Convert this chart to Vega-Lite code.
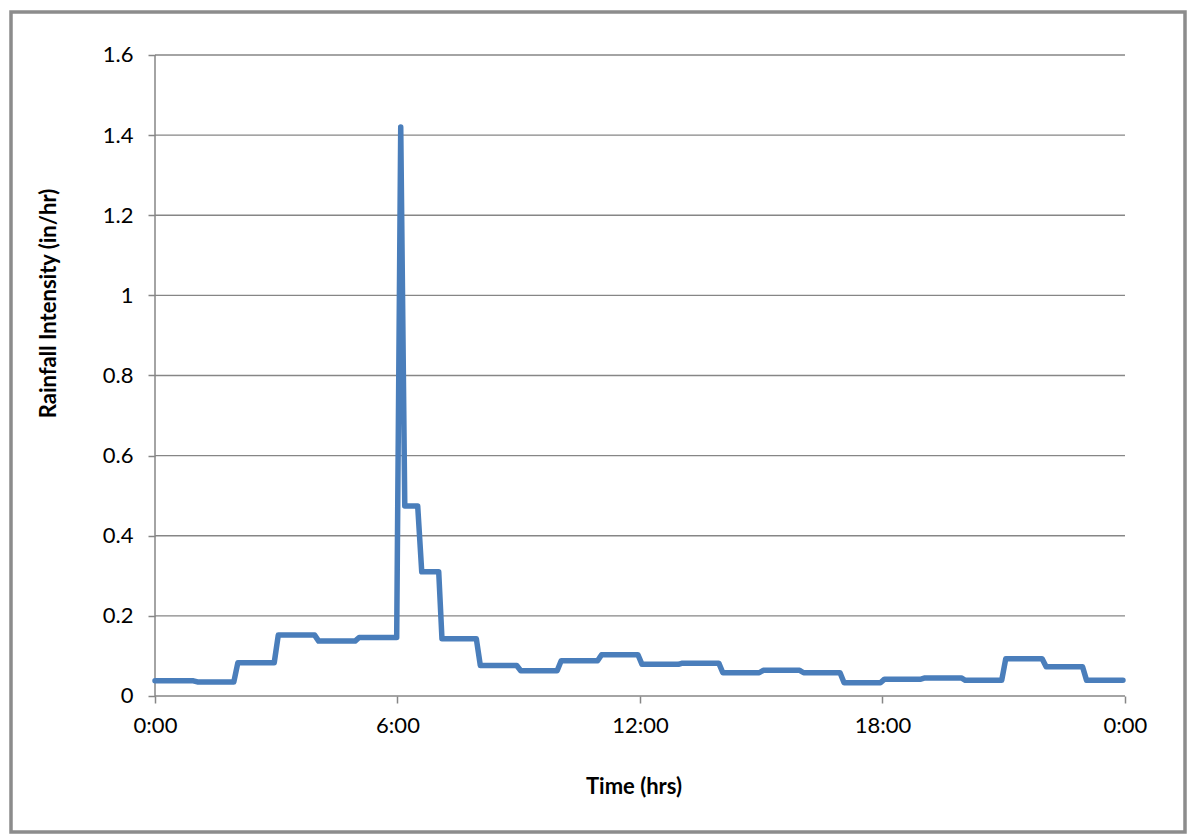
{
  "$schema": "https://vega.github.io/schema/vega-lite/v6.json",
  "width": 1174,
  "height": 820,
  "autosize": {"type": "none"},
  "padding": {"left": 11, "top": 12, "right": 5, "bottom": 4},
  "background": "white",
  "config": {
    "view": {"stroke": "#8c8c8c", "strokeWidth": 3.5},
    "font": "Lato",
    "axis": {
      "labelFont": "Lato",
      "titleFont": "Lato",
      "labelColor": "#000000",
      "titleColor": "#000000",
      "labelFontSize": 22,
      "titleFontSize": 22,
      "titleFontWeight": "bold",
      "tickColor": "#868686",
      "tickWidth": 1.5,
      "tickSize": 7,
      "grid": false,
      "domain": false
    }
  },
  "datasets": {
    "rain": [
      {"t": 0.0, "v": 0.038},
      {"t": 0.95, "v": 0.038},
      {"t": 1.05, "v": 0.035},
      {"t": 1.95, "v": 0.035},
      {"t": 2.05, "v": 0.083},
      {"t": 2.95, "v": 0.083},
      {"t": 3.05, "v": 0.152},
      {"t": 3.95, "v": 0.152},
      {"t": 4.05, "v": 0.137},
      {"t": 4.95, "v": 0.137},
      {"t": 5.05, "v": 0.146},
      {"t": 5.98, "v": 0.146},
      {"t": 6.08, "v": 1.42},
      {"t": 6.18, "v": 0.474},
      {"t": 6.5, "v": 0.474},
      {"t": 6.6, "v": 0.31},
      {"t": 7.02, "v": 0.31},
      {"t": 7.1, "v": 0.143},
      {"t": 7.95, "v": 0.143},
      {"t": 8.05, "v": 0.076},
      {"t": 8.95, "v": 0.076},
      {"t": 9.05, "v": 0.063},
      {"t": 9.95, "v": 0.063},
      {"t": 10.05, "v": 0.088},
      {"t": 10.95, "v": 0.088},
      {"t": 11.05, "v": 0.103},
      {"t": 11.95, "v": 0.103},
      {"t": 12.05, "v": 0.079},
      {"t": 12.95, "v": 0.079},
      {"t": 13.05, "v": 0.082},
      {"t": 13.95, "v": 0.082},
      {"t": 14.05, "v": 0.058},
      {"t": 14.95, "v": 0.058},
      {"t": 15.05, "v": 0.064},
      {"t": 15.95, "v": 0.064},
      {"t": 16.05, "v": 0.058},
      {"t": 16.95, "v": 0.058},
      {"t": 17.05, "v": 0.033},
      {"t": 17.95, "v": 0.033},
      {"t": 18.05, "v": 0.042},
      {"t": 18.95, "v": 0.042},
      {"t": 19.05, "v": 0.045},
      {"t": 19.95, "v": 0.045},
      {"t": 20.05, "v": 0.039},
      {"t": 20.95, "v": 0.039},
      {"t": 21.05, "v": 0.093},
      {"t": 21.95, "v": 0.093},
      {"t": 22.05, "v": 0.073},
      {"t": 22.95, "v": 0.073},
      {"t": 23.05, "v": 0.039},
      {"t": 23.95, "v": 0.039}
    ],
    "grid": [
      {"g": 0.2}, {"g": 0.4}, {"g": 0.6}, {"g": 0.8},
      {"g": 1.0}, {"g": 1.2}, {"g": 1.4}, {"g": 1.6}
    ],
    "axes": [
      {"x": 0, "x2": 24, "y": 0, "y2": 0},
      {"x": 0, "x2": 0, "y": 0, "y2": 1.6}
    ]
  },
  "layer": [
    {
      "data": {"name": "grid"},
      "mark": {"type": "rule", "color": "#868686", "strokeWidth": 1.4},
      "encoding": {
        "y": {"field": "g", "type": "quantitative"},
        "x": {"datum": 0, "type": "quantitative"},
        "x2": {"datum": 24}
      }
    },
    {
      "data": {"name": "axes"},
      "mark": {"type": "rule", "color": "#868686", "strokeWidth": 1.5},
      "encoding": {
        "x": {"field": "x", "type": "quantitative"},
        "x2": {"field": "x2"},
        "y": {"field": "y", "type": "quantitative"},
        "y2": {"field": "y2"}
      }
    },
    {
      "data": {"name": "rain"},
      "mark": {"type": "line", "color": "#4a7ebb", "strokeWidth": 5.5, "strokeCap": "round", "strokeJoin": "round"},
      "encoding": {
        "x": {
          "field": "t",
          "type": "quantitative",
          "scale": {"domain": [-3.563, 25.485], "nice": false, "zero": false},
          "axis": {
            "values": [0, 6, 12, 18, 24],
            "labelExpr": "datum.value == 24 ? '0:00' : datum.value + ':00'",
            "offset": -136,
            "labelPadding": 12,
            "title": "Time (hrs)",
            "titleX": 622.5,
            "titleY": 90,
            "titleAnchor": null,
            "titleAlign": "center",
            "titleBaseline": "middle"
          }
        },
        "y": {
          "field": "v",
          "type": "quantitative",
          "scale": {"domain": [-0.3395, 1.7073], "nice": false, "zero": false},
          "axis": {
            "values": [0, 0.2, 0.4, 0.6, 0.8, 1.0, 1.2, 1.4, 1.6],
            "format": "~g",
            "offset": -144,
            "labelPadding": 15,
            "title": "Rainfall Intensity (in/hr)",
            "titleX": -107,
            "titleY": 291,
            "titleAngle": -90,
            "titleAlign": "center",
            "titleBaseline": "middle"
          }
        }
      }
    }
  ]
}
